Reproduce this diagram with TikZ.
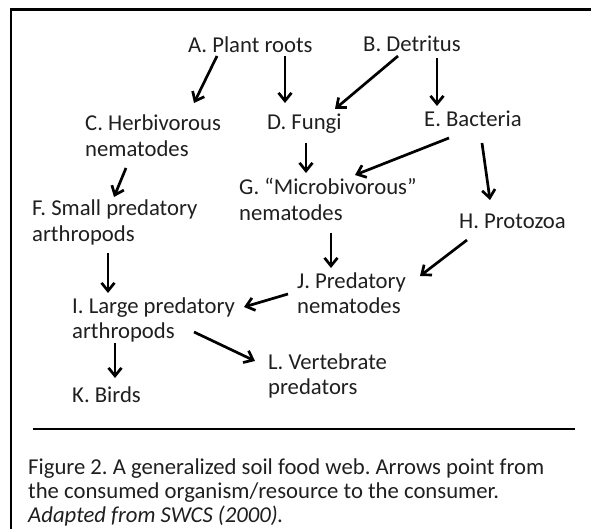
\documentclass[tikz,border=0pt]{standalone}
\usepackage{fontspec}
\setmainfont{Carlito}
\usetikzlibrary{arrows.meta}
\frenchspacing
\newcommand{\twoln}[2]{\vtop{\baselineskip=25.5pt\hbox{#1}\hbox{#2}}}
\tikzset{
  lbl/.style={inner sep=0pt, anchor=base west, text=black!88,
    font=\fontsize{22.7pt}{25.5pt}\selectfont},
  arr/.style={-{Straight Barb[length=8pt,width=13pt]}, line width=2.7pt, black},
  rule/.style={line width=2.5pt, black}
}
\begin{document}
\begin{tikzpicture}[x=1pt,y=-1pt]
\useasboundingbox (0,0) rectangle (591,529);
\draw[rule] (11,529) -- (11,9.5) -- (591,9.5);
\node[lbl] (A) at (188,53) {A. Plant roots};
\node[lbl] (B) at (363,52) {B. Detritus};
\node[lbl] (C) at (85,131) {\twoln{C. Herbivorous}{nematodes}};
\node[lbl] (D) at (267,130) {D. Fungi};
\node[lbl] (E) at (424,127) {E. Bacteria};
\node[lbl] (F) at (32,216) {\twoln{F. Small predatory}{arthropods}};
\node[lbl] (G) at (239,195) {\twoln{G. “Microbivorous”}{nematodes}};
\node[lbl] (H) at (459,229) {H. Protozoa};
\node[lbl] (J) at (297,288) {\twoln{J. Predatory}{nematodes}};
\node[lbl] (I) at (72,313) {\twoln{I. Large predatory}{arthropods}};
\node[lbl] (L) at (268,369) {\twoln{L. Vertebrate}{predators}};
\node[lbl] (K) at (72,402) {K. Birds};
\draw[arr] ([shift={(29,3)}]A.base west) -- ([shift={(109,-28)}]C.base west);
\draw[arr] ([shift={(97,3)}]A.base west) -- ([shift={(18,-27)}]D.base west);
\draw[arr] ([shift={(35,4)}]B.base west) -- ([shift={(68,-21)}]D.base west);
\draw[arr] ([shift={(74,6)}]B.base west) -- ([shift={(13,-21)}]E.base west);
\draw[arr] ([shift={(41,37)}]C.base west) -- ([shift={(82,-19)}]F.base west);
\draw[arr] ([shift={(39,13)}]D.base west) -- ([shift={(67,-22)}]G.base west);
\draw[arr] ([shift={(25,11)}]E.base west) -- ([shift={(116,-20)}]G.base west);
\draw[arr] ([shift={(58,16)}]E.base west) -- ([shift={(31,-29)}]H.base west);
\draw[arr] ([shift={(92,38)}]G.base west) -- ([shift={(34,-20)}]J.base west);
\draw[arr] ([shift={(8,11)}]H.base west) -- ([shift={(123,-12)}]J.base west);
\draw[arr] ([shift={(76,37)}]F.base west) -- ([shift={(36,-20)}]I.base west);
\draw[arr] ([shift={(-9,6)}]J.base west) -- ([shift={(172,-6)}]I.base west);
\draw[arr] ([shift={(122,19)}]I.base west) -- ([shift={(-13,-8)}]L.base west);
\draw[arr] ([shift={(43,30)}]I.base west) -- ([shift={(43,-24)}]K.base west);
\coordinate (r1) at (33,429);
\coordinate (r2) at (575,429);
\draw[rule] (r1) -- (r2);
\node[lbl] (cap) at (28,474) {\vtop{\baselineskip=24pt
  \hbox{Figure 2. A generalized soil food web. Arrows point from}
  \hbox{the consumed organism/resource to the consumer.}
  \hbox{\itshape Adapted from SWCS (2000).}}};
\end{tikzpicture}
\end{document}
